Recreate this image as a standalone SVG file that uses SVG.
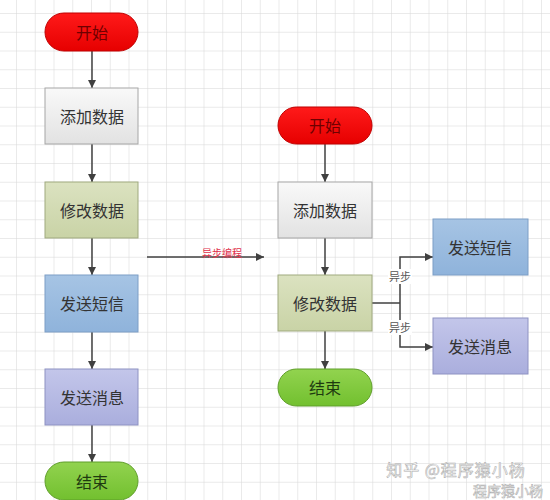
<svg xmlns="http://www.w3.org/2000/svg" width="550" height="500" viewBox="0 0 550 500">
<defs>
<pattern id="grid" x="16" y="13" width="18.75" height="18.75" patternUnits="userSpaceOnUse">
<path d="M0 0H18.75M0 0V18.75" fill="none" stroke="#d6d6d6" stroke-width="1"/>
</pattern>
<linearGradient id="gRed" x1="0" y1="0" x2="0" y2="1"><stop offset="0" stop-color="#ff1a1a"/><stop offset="1" stop-color="#e60000"/></linearGradient>
<linearGradient id="gGray" x1="0" y1="0" x2="0" y2="1"><stop offset="0" stop-color="#f9f9f9"/><stop offset="1" stop-color="#e2e2e2"/></linearGradient>
<linearGradient id="gOlive" x1="0" y1="0" x2="0" y2="1"><stop offset="0" stop-color="#dbe2c0"/><stop offset="1" stop-color="#c9d3a6"/></linearGradient>
<linearGradient id="gBlue" x1="0" y1="0" x2="0" y2="1"><stop offset="0" stop-color="#a6c4e4"/><stop offset="1" stop-color="#8fb3db"/></linearGradient>
<linearGradient id="gLav" x1="0" y1="0" x2="0" y2="1"><stop offset="0" stop-color="#c3c6ea"/><stop offset="1" stop-color="#aaaedd"/></linearGradient>
<linearGradient id="gGreen" x1="0" y1="0" x2="0" y2="1"><stop offset="0" stop-color="#92d34f"/><stop offset="1" stop-color="#72c02f"/></linearGradient>
<marker id="arr" viewBox="0 0 10 10" refX="10" refY="5" markerWidth="8" markerHeight="8" markerUnits="userSpaceOnUse" orient="auto">
<path d="M0 0L10 5L0 10z" fill="#404040"/>
</marker>
<style>
text{font-family:"Noto Sans CJK SC","Noto Sans",sans-serif;text-anchor:middle;dominant-baseline:central}
.lbl{font-size:16px;fill:#333}
.red{fill:url(#gRed);stroke:#c00000;stroke-width:1}
.gray{fill:url(#gGray);stroke:#a6a6a6;stroke-width:1}
.olive{fill:url(#gOlive);stroke:#9fa97f;stroke-width:1}
.blue{fill:url(#gBlue);stroke:#7d9ec6;stroke-width:1}
.lav{fill:url(#gLav);stroke:#8e92c2;stroke-width:1}
.green{fill:url(#gGreen);stroke:#5f9e2a;stroke-width:1}
.conn{fill:none;stroke:#404040;stroke-width:1.5}
.small{font-size:11px;fill:#555}
text.startTxt{fill:#6e0000}
text.endTxt{fill:#1e3a10}
</style>
</defs>
<rect width="550" height="500" fill="#fff"/>
<rect width="550" height="500" fill="url(#grid)"/>

<g id="connectors">
<path class="conn" d="M92 51V88" marker-end="url(#arr)"/>
<path class="conn" d="M92 144V182" marker-end="url(#arr)"/>
<path class="conn" d="M92 238V275" marker-end="url(#arr)"/>
<path class="conn" d="M92 332V369" marker-end="url(#arr)"/>
<path class="conn" d="M92 425V462" marker-end="url(#arr)"/>
<path class="conn" d="M147 257H264" marker-end="url(#arr)"/>
<text x="222" y="252" style="font-size:10px;fill:#e0304a">异步编程</text>
<path class="conn" d="M325 144V182" marker-end="url(#arr)"/>
<path class="conn" d="M325 238V275" marker-end="url(#arr)"/>
<path class="conn" d="M325 331V369" marker-end="url(#arr)"/>
<path class="conn" d="M372 303H400"/>
<path class="conn" d="M400 303V257H433" marker-end="url(#arr)"/>
<path class="conn" d="M400 303V347H433" marker-end="url(#arr)"/>
<rect x="388" y="269" width="24" height="15" fill="#fff"/>
<text class="small" x="400" y="276">异步</text>
<rect x="388" y="320" width="24" height="15" fill="#fff"/>
<text class="small" x="400" y="327">异步</text>
</g>

<g id="start1"><rect class="red" x="45" y="13" width="93" height="38" rx="19"/><text class="lbl startTxt" x="92" y="32">开始</text></g>
<g id="add1"><rect class="gray" x="45" y="88" width="93" height="56"/><text class="lbl" x="92" y="116">添加数据</text></g>
<g id="modify1"><rect class="olive" x="45" y="182" width="93" height="56"/><text class="lbl" x="92" y="210">修改数据</text></g>
<g id="sms1"><rect class="blue" x="45" y="275" width="93" height="57"/><text class="lbl" x="92" y="303">发送短信</text></g>
<g id="msg1"><rect class="lav" x="45" y="369" width="93" height="56"/><text class="lbl" x="92" y="397">发送消息</text></g>
<g id="end1"><rect class="green" x="45" y="462" width="93" height="38" rx="19"/><text class="lbl endTxt" x="92" y="481">结束</text></g>

<g id="start2"><rect class="red" x="278" y="107" width="94" height="37" rx="18.5"/><text class="lbl startTxt" x="325" y="125">开始</text></g>
<g id="add2"><rect class="gray" x="278" y="182" width="94" height="56"/><text class="lbl" x="325" y="210">添加数据</text></g>
<g id="modify2"><rect class="olive" x="278" y="275" width="94" height="56"/><text class="lbl" x="325" y="303">修改数据</text></g>
<g id="end2"><rect class="green" x="278" y="369" width="94" height="37" rx="18.5"/><text class="lbl endTxt" x="325" y="387">结束</text></g>
<g id="sms2"><rect class="blue" x="433" y="219" width="95" height="56"/><text class="lbl" x="480" y="247">发送短信</text></g>
<g id="msg2"><rect class="lav" x="433" y="318" width="95" height="56"/><text class="lbl" x="480" y="346">发送消息</text></g>

<g id="watermark" style="fill:#fff;stroke:#b0b0b0;stroke-width:0.6">
<text x="456" y="469" style="font-size:16px;letter-spacing:1px">知乎 @程序猿小杨</text>
<text x="508" y="490" style="font-size:14px">程序猿小杨</text>
</g>
</svg>
